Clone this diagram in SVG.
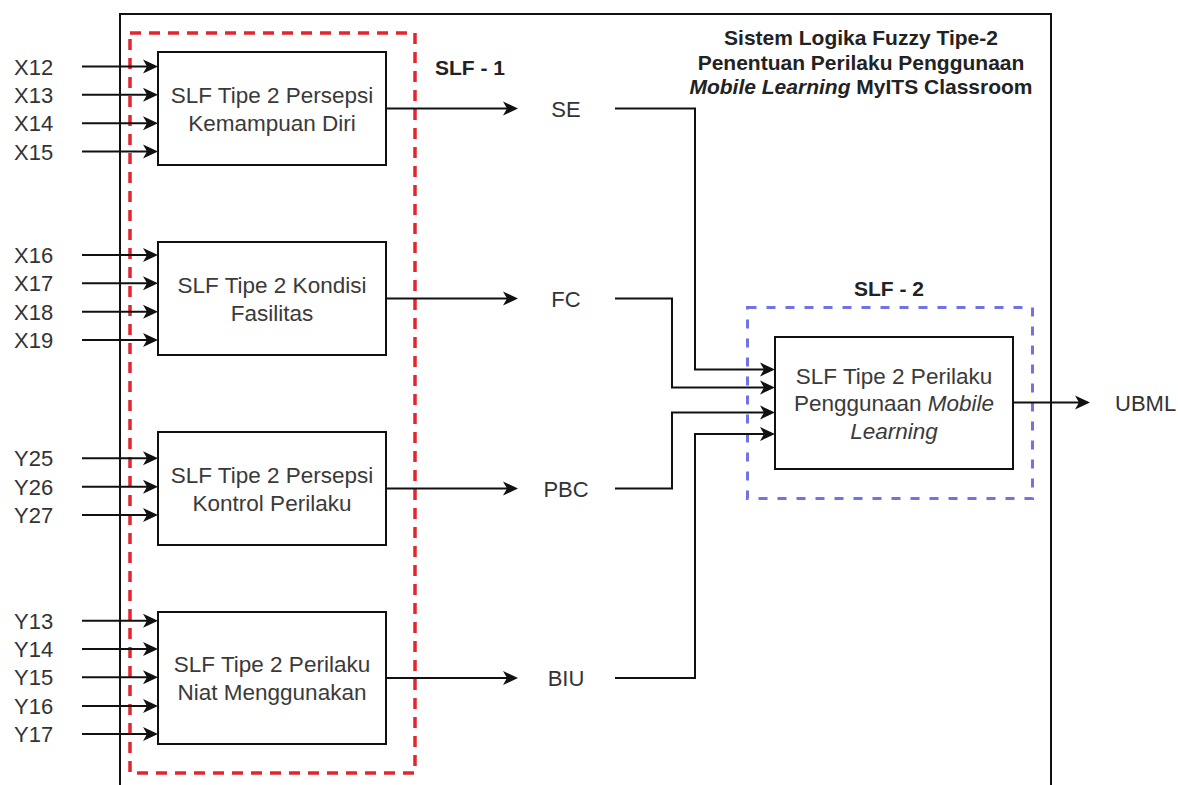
<svg xmlns="http://www.w3.org/2000/svg" width="1178" height="785" viewBox="0 0 1178 785">
  <style>
    .lbl { font-family: "Liberation Sans", Arial, sans-serif; font-size: 22px; fill: #333; }
    .bt { font-size: 22.5px; fill: #3a3a3a; }
    .mid { text-anchor: middle; }
    .head { font-family: "Liberation Sans", Arial, sans-serif; font-weight: bold; fill: #222; text-anchor: middle; }
    .box { fill: #fff; stroke: #111; stroke-width: 2; }
    .arrow { fill: none; stroke: #111; stroke-width: 2; marker-end: url(#tip); }
  </style>
  <defs>
    <marker id="tip" viewBox="0 -8 16 16" markerWidth="16" markerHeight="16" refX="11" refY="0" orient="auto" markerUnits="userSpaceOnUse">
      <path d="M0,-7 L15,0 L0,7 L4,0 Z" fill="#111"/>
    </marker>
  </defs>

  <rect width="1178" height="785" fill="#fff"/>

  <!-- outer system frame (open at the bottom) -->
  <path d="M120,790 V14 H1051 V790" fill="none" stroke="#111" stroke-width="2"/>

  <!-- title -->
  <g id="title">
    <text class="head" x="861" y="45" font-size="21">Sistem Logika Fuzzy Tipe-2</text>
    <text class="head" x="861" y="69.5" font-size="21">Penentuan Perilaku Penggunaan</text>
    <text class="head" x="861" y="94" font-size="21"><tspan font-style="italic">Mobile Learning</tspan> MyITS Classroom</text>
  </g>

  <!-- SLF-1 group outline -->
  <g id="slf1-group">
    <rect x="130" y="33" width="285" height="740" fill="none" stroke="#e3262e" stroke-width="3.5" stroke-dasharray="11 8"/>
    <text class="head" x="470" y="74.5" font-size="21">SLF - 1</text>
  </g>

  <!-- SLF-2 group outline -->
  <g id="slf2-group">
    <rect x="747.5" y="307.5" width="285" height="191" fill="none" stroke="#7272e4" stroke-width="3" stroke-dasharray="9 10"/>
    <text class="head" x="889" y="295.5" font-size="21">SLF - 2</text>
  </g>

  <!-- connectors -->
  <g id="connectors">
    <!-- inputs to SLF Persepsi Kemampuan Diri -->
    <line class="arrow" x1="82" y1="66.5" x2="154" y2="66.5"/>
    <line class="arrow" x1="82" y1="94.8" x2="154" y2="94.8"/>
    <line class="arrow" x1="82" y1="123.2" x2="154" y2="123.2"/>
    <line class="arrow" x1="82" y1="151.5" x2="154" y2="151.5"/>
    <!-- inputs to SLF Kondisi Fasilitas -->
    <line class="arrow" x1="82" y1="255" x2="154" y2="255"/>
    <line class="arrow" x1="82" y1="283.3" x2="154" y2="283.3"/>
    <line class="arrow" x1="82" y1="311.7" x2="154" y2="311.7"/>
    <line class="arrow" x1="82" y1="340" x2="154" y2="340"/>
    <!-- inputs to SLF Persepsi Kontrol Perilaku -->
    <line class="arrow" x1="82" y1="458.3" x2="154" y2="458.3"/>
    <line class="arrow" x1="82" y1="486.7" x2="154" y2="486.7"/>
    <line class="arrow" x1="82" y1="515" x2="154" y2="515"/>
    <!-- inputs to SLF Niat Menggunakan -->
    <line class="arrow" x1="82" y1="620.7" x2="154" y2="620.7"/>
    <line class="arrow" x1="82" y1="649" x2="154" y2="649"/>
    <line class="arrow" x1="82" y1="677.3" x2="154" y2="677.3"/>
    <line class="arrow" x1="82" y1="706" x2="154" y2="706"/>
    <line class="arrow" x1="82" y1="734" x2="154" y2="734"/>

    <!-- first-stage outputs -->
    <line class="arrow" x1="386" y1="108.5" x2="514" y2="108.5"/>
    <line class="arrow" x1="386" y1="298.5" x2="514" y2="298.5"/>
    <line class="arrow" x1="386" y1="488.5" x2="514" y2="488.5"/>
    <line class="arrow" x1="386" y1="678" x2="514" y2="678"/>

    <!-- routed into SLF-2 -->
    <path class="arrow" d="M615,108.5 H695 V369.5 H771"/>
    <path class="arrow" d="M615,298.5 H672 V387.5 H771"/>
    <path class="arrow" d="M615,488.5 H672 V412.5 H771"/>
    <path class="arrow" d="M615,678 H695 V434 H771"/>

    <!-- final output -->
    <line class="arrow" x1="1013" y1="402.5" x2="1086" y2="402.5"/>
  </g>

  <!-- input labels -->
  <g id="inputs">
    <text class="lbl" x="14" y="74.5">X12</text>
    <text class="lbl" x="14" y="102.8">X13</text>
    <text class="lbl" x="14" y="131.2">X14</text>
    <text class="lbl" x="14" y="159.5">X15</text>
    <text class="lbl" x="14" y="263">X16</text>
    <text class="lbl" x="14" y="291.3">X17</text>
    <text class="lbl" x="14" y="319.7">X18</text>
    <text class="lbl" x="14" y="348">X19</text>
    <text class="lbl" x="14" y="466.3">Y25</text>
    <text class="lbl" x="14" y="494.7">Y26</text>
    <text class="lbl" x="14" y="523">Y27</text>
    <text class="lbl" x="14" y="628.7">Y13</text>
    <text class="lbl" x="14" y="657">Y14</text>
    <text class="lbl" x="14" y="685.3">Y15</text>
    <text class="lbl" x="14" y="714">Y16</text>
    <text class="lbl" x="14" y="742">Y17</text>
  </g>

  <!-- first-stage fuzzy systems -->
  <g id="slf-se">
    <rect class="box" x="158" y="52" width="228" height="113"/>
    <text class="lbl bt mid" x="272" y="102.5">SLF Tipe 2 Persepsi</text>
    <text class="lbl bt mid" x="272" y="130.5">Kemampuan Diri</text>
  </g>
  <g id="slf-fc">
    <rect class="box" x="158" y="242" width="228" height="113"/>
    <text class="lbl bt mid" x="272" y="292.5">SLF Tipe 2 Kondisi</text>
    <text class="lbl bt mid" x="272" y="320.5">Fasilitas</text>
  </g>
  <g id="slf-pbc">
    <rect class="box" x="158" y="432" width="228" height="113"/>
    <text class="lbl bt mid" x="272" y="482.5">SLF Tipe 2 Persepsi</text>
    <text class="lbl bt mid" x="272" y="510.5">Kontrol Perilaku</text>
  </g>
  <g id="slf-biu">
    <rect class="box" x="158" y="612" width="228" height="132"/>
    <text class="lbl bt mid" x="272" y="672">SLF Tipe 2 Perilaku</text>
    <text class="lbl bt mid" x="272" y="700">Niat Menggunakan</text>
  </g>

  <!-- intermediate variables -->
  <g id="var-se"><text class="lbl mid" x="566" y="116.5">SE</text></g>
  <g id="var-fc"><text class="lbl mid" x="566" y="306.5">FC</text></g>
  <g id="var-pbc"><text class="lbl mid" x="566" y="496.5">PBC</text></g>
  <g id="var-biu"><text class="lbl mid" x="566" y="686">BIU</text></g>

  <!-- second-stage fuzzy system -->
  <g id="slf-ubml">
    <rect class="box" x="775" y="337" width="238" height="132"/>
    <text class="lbl bt mid" x="894" y="384">SLF Tipe 2 Perilaku</text>
    <text class="lbl bt mid" x="894" y="411">Penggunaan <tspan font-style="italic">Mobile</tspan></text>
    <text class="lbl bt mid" x="894" y="439" font-style="italic">Learning</text>
  </g>

  <!-- final output -->
  <g id="out-ubml"><text class="lbl" x="1115" y="410.5">UBML</text></g>
</svg>
